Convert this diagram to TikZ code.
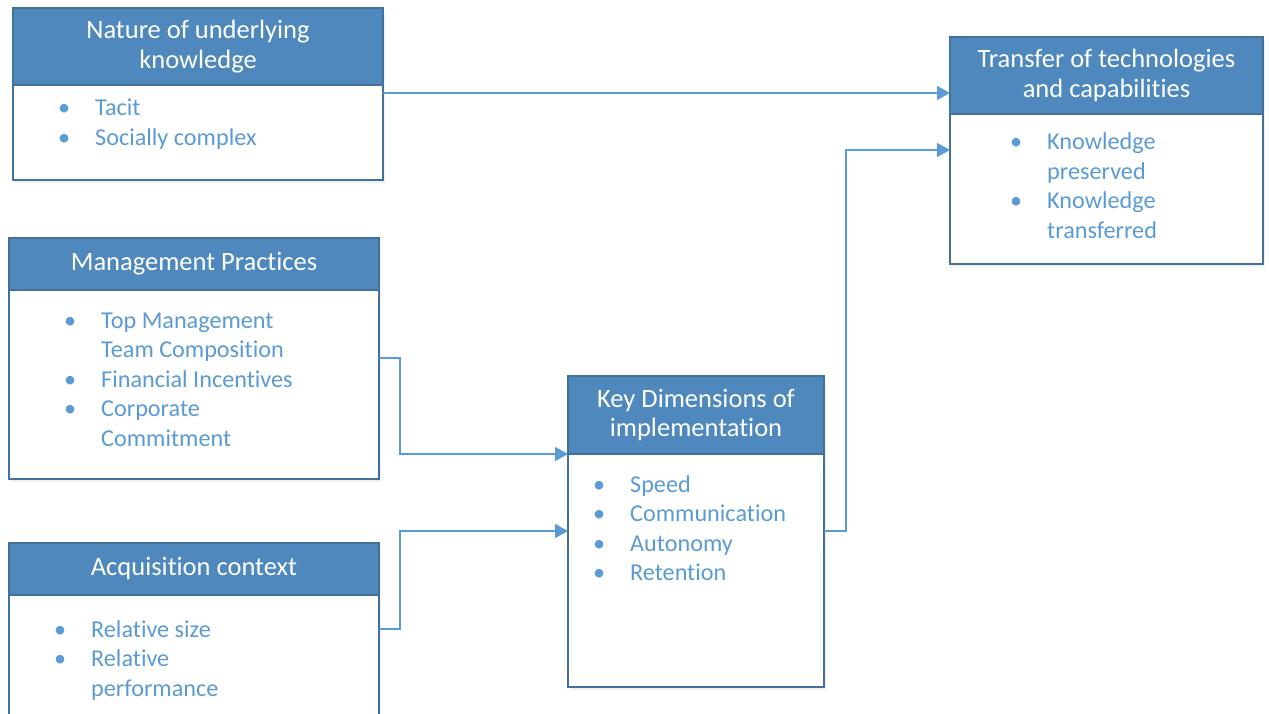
\documentclass[tikz,border=0pt]{standalone}
\usepackage{fontspec}
\setmainfont[Ligatures=NoCommon]{Carlito}
\usetikzlibrary{arrows.meta,positioning,calc,shadows}
\definecolor{headblue}{RGB}{79,136,188}
\definecolor{edgeblue}{RGB}{65,113,156}
\definecolor{itemblue}{RGB}{91,155,213}
\newcommand{\bul}{\makebox[0pt]{\textbullet}\hspace{31pt}}
\newcommand{\cont}{\hspace{31pt}}
\tikzstyle{head} = [rectangle, draw=edgeblue, fill=headblue, text=white, align=center,
                    inner sep=0pt, outer sep=0pt, line width=1.2pt, anchor=north west,
                    font=\fontsize{26.5}{29.5}\selectfont,
                    drop shadow={opacity=0.12, shadow xshift=2pt, shadow yshift=-3pt}]
\tikzstyle{body} = [rectangle, draw=edgeblue, fill=white, inner sep=0pt, outer sep=0pt,
                    line width=1.2pt,
                    drop shadow={opacity=0.12, shadow xshift=2pt, shadow yshift=-3pt}]
\tikzstyle{items} = [anchor=base west, inner sep=0pt, text=itemblue,
                     font=\fontsize{24.2}{29.5}\selectfont]
\tikzstyle{arrow} = [-{Triangle[length=13pt, width=14pt]}, draw=itemblue, line width=1.5pt]

\begin{document}
\begin{tikzpicture}[x=1pt, y=-1pt]
    \useasboundingbox (0,0) rectangle (1269,714);

    % left column
    \node [head, minimum width=370pt, minimum height=77pt] (nathead) at (13,8) {Nature of underlying\\knowledge};
    \node [body, below=0pt of nathead, minimum width=370pt, minimum height=95pt] (natbody) {};
    \node [items] (natlist) at (64,116) {\begin{tabular}[t]{@{}l@{}}
        \bul Tacit\\ \bul Socially complex\end{tabular}};

    \node [head, minimum width=370pt, minimum height=52pt] (mghead) at (9,238) {Management Practices};
    \node [body, below=0pt of mghead, minimum width=370pt, minimum height=189pt] (mgbody) {};
    \node [items] (mglist) at (70,328) {\begin{tabular}[t]{@{}l@{}}
        \bul Top Management\\ \cont Team Composition\\ \bul Financial Incentives\\
        \bul Corporate\\ \cont Commitment\end{tabular}};

    \node [head, minimum width=370pt, minimum height=52pt] (achead) at (9,543) {Acquisition context};
    \node [body, below=0pt of achead, minimum width=370pt, minimum height=150pt] (acbody) {};
    \node [items] (aclist) at (60,637) {\begin{tabular}[t]{@{}l@{}}
        \bul Relative size\\ \bul Relative\\ \cont performance\end{tabular}};

    % middle
    \node [head, minimum width=256pt, minimum height=78pt] (keyhead) at (568,376) {Key Dimensions of\\implementation};
    \node [body, below=0pt of keyhead, minimum width=256pt, minimum height=233pt] (keybody) {};
    \node [items] (keylist) at (599,492) {\begin{tabular}[t]{@{}l@{}}
        \bul Speed\\ \bul Communication\\ \bul Autonomy\\ \bul Retention\end{tabular}};

    % right
    \node [head, minimum width=313pt, minimum height=77pt] (trhead) at (950,37) {Transfer of technologies\\and capabilities};
    \node [body, below=0pt of trhead, minimum width=313pt, minimum height=150pt] (trbody) {};
    \node [items] (trlist) at (1016,150) {\begin{tabular}[t]{@{}l@{}}
        \bul Knowledge\\ \cont preserved\\ \bul Knowledge\\ \cont transferred\end{tabular}};

    % connectors
    \coordinate (natout) at ($(natbody.north east)+(0,8)$);
    \coordinate (mgout) at ($(mgbody.north east)+(0,68)$);
    \coordinate (acout) at ($(acbody.north east)+(0,34)$);
    \coordinate (keyin) at ($(keybody.north west)+(0,77)$);
    \coordinate (keyout) at ($(keybody.north east)+(0,77)$);
    \coordinate (trin) at ($(trbody.north west)+(0,36)$);

    \draw [arrow] (natout) -- (natout -| trhead.west);
    \draw [arrow] (mgout) -- ++(21,0) |- (keyhead.south west);
    \draw [arrow] (acout) -- ++(21,0) |- (keyin);
    \draw [arrow] (keyout) -- ++(22,0) |- (trin);
\end{tikzpicture}
\end{document}
